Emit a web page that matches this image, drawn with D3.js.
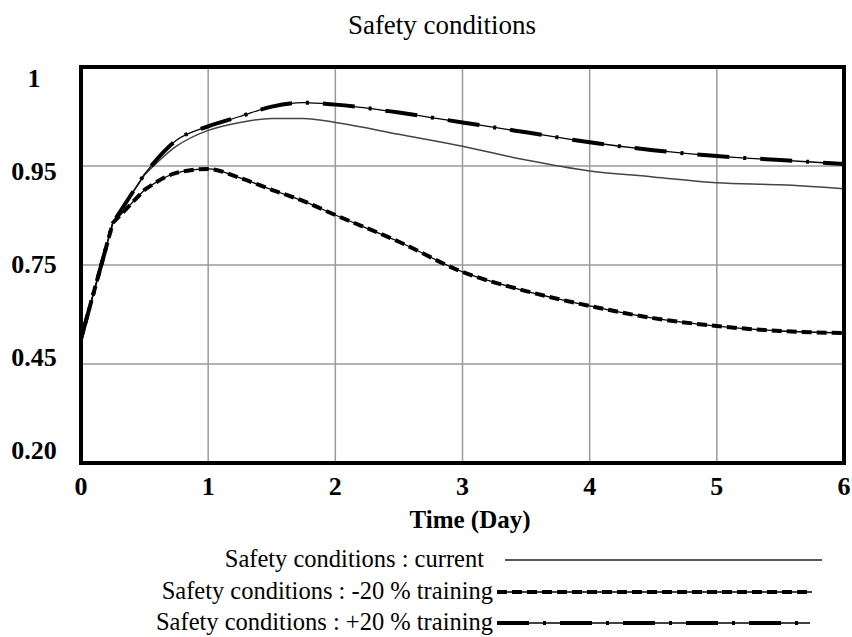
<!DOCTYPE html>
<html>
<head>
<meta charset="utf-8">
<script src="https://cdn.jsdelivr.net/npm/d3@7"></script>
<style>
  body { margin: 0; background: #fff; }
  svg { display: block; font-family: "Liberation Serif", "Times New Roman", serif; }
</style>
</head>
<body>
<svg width="852" height="637"></svg>
<script>
// time in days
const days = [0, 0.25, 0.5, 0.75, 1, 1.25, 1.5, 1.75, 2, 2.5, 3, 3.5, 4, 4.5, 5, 5.5, 6]

// in the units of the (uneven) y labels
const current = [0.526, 0.835, 0.932, 0.960, 0.968, 0.972, 0.974, 0.974, 0.972, 0.966, 0.960, 0.953, 0.940, 0.928, 0.916, 0.912, 0.904]
const minus20 = [0.526, 0.835, 0.902, 0.936, 0.944, 0.926, 0.902, 0.879, 0.851, 0.797, 0.729, 0.671, 0.626, 0.589, 0.565, 0.550, 0.544]
const plus20  = [0.526, 0.835, 0.934, 0.963, 0.970, 0.975, 0.980, 0.982, 0.981, 0.977, 0.972, 0.967, 0.962, 0.958, 0.955, 0.953, 0.951]

const yTicks = [0.20, 0.45, 0.75, 0.95, 1]
const yTickLabels = ["0.20", "0.45", "0.75", "0.95", "1"]
const xTicks = [0, 1, 2, 3, 4, 5, 6]

const seriesNames = [
  "Safety conditions : current",
  "Safety conditions : -20 % training",
  "Safety conditions : +20 % training"
]

const svg = d3.select("svg")
const pLeft = 81, pRight = 844, pTop = 67, pBottom = 463

const x = d3.scaleLinear().domain([0, 6]).range([pLeft, pRight])
// the chart's y axis is evenly spaced but labelled unevenly, so a piecewise scale
const y = d3.scaleLinear().domain(yTicks).range([463, 364, 265, 166, 67])

svg.append("text")
  .attr("x", 442).attr("y", 34)
  .attr("text-anchor", "middle")
  .attr("font-size", 27)
  .text("Safety conditions")

// grid
const grid = svg.append("g").attr("stroke", "#9a9a9a").attr("stroke-width", 1.5)
grid.selectAll("line.v").data(xTicks.slice(1, -1)).enter().append("line")
  .attr("x1", d => x(d)).attr("x2", d => x(d))
  .attr("y1", pTop).attr("y2", pBottom)
grid.selectAll("line.h").data(yTicks.slice(1, -1)).enter().append("line")
  .attr("x1", pLeft).attr("x2", pRight)
  .attr("y1", d => y(d)).attr("y2", d => y(d))

// tick labels
const labelPos = d3.scalePoint().domain(d3.range(yTicks.length)).range([450, 78])
svg.append("g").selectAll("text").data(yTickLabels).enter().append("text")
  .attr("x", 34)
  .attr("y", (d, i) => labelPos(i) + 9)
  .attr("text-anchor", "middle")
  .attr("font-weight", "bold")
  .attr("font-size", 26)
  .text(d => d)

svg.append("g").selectAll("text").data(xTicks).enter().append("text")
  .attr("x", d => x(d))
  .attr("y", 495)
  .attr("text-anchor", "middle")
  .attr("font-weight", "bold")
  .attr("font-size", 26)
  .text(d => d)

svg.append("text")
  .attr("x", 470).attr("y", 528)
  .attr("text-anchor", "middle")
  .attr("font-weight", "bold")
  .attr("font-size", 25)
  .text("Time (Day)")

// series: straight segments for the first saved steps, smooth after
const straight = d3.line().x((d, i) => x(days[i])).y(d => y(d))
const smooth = d3.line().x(d => x(d[0])).y(d => y(d[1])).curve(d3.curveMonotoneX)
function seriesPath(s) {
  const head = straight(s.slice(0, 3))
  const tail = smooth(s.slice(2).map((v, i) => [days[i + 2], v]))
  return head + "L" + tail.slice(1)
}

const styles = [
  { width: 1.5, color: "#444", dash: null, under: false },
  { width: 4, color: "#000", dash: "10,5", under: true },
  { width: 4, color: "#000", dash: "32,14,3,14", under: true }
]
const allSeries = [current, minus20, plus20]

const plot = svg.append("g")
allSeries.forEach((s, k) => {
  const st = styles[k]
  if (st.under) {
    plot.append("path")
      .attr("fill", "none").attr("stroke", "#000").attr("stroke-width", 1.3)
      .attr("d", seriesPath(s))
  }
  plot.append("path")
    .attr("fill", "none")
    .attr("stroke", st.color)
    .attr("stroke-width", st.width)
    .attr("stroke-dasharray", st.dash)
    .attr("d", seriesPath(s))
})

// frame
svg.append("rect")
  .attr("x", pLeft).attr("y", pTop)
  .attr("width", pRight - pLeft).attr("height", pBottom - pTop)
  .attr("fill", "none").attr("stroke", "#000").attr("stroke-width", 4)

// legend
const legendRows = [560, 592, 623]
const legendEnds = [822, 812, 810]
const lg = svg.append("g")
seriesNames.forEach((name, k) => {
  const st = styles[k]
  const ly = legendRows[k]
  lg.append("text")
    .attr("x", k === 0 ? 484 : 493).attr("y", ly + 7)
    .attr("text-anchor", "end")
    .attr("font-size", 24.5)
    .text(name)
  const x0 = k === 0 ? 505 : 497
  if (st.under) {
    lg.append("line").attr("x1", x0).attr("x2", legendEnds[k])
      .attr("y1", ly).attr("y2", ly)
      .attr("stroke", "#000").attr("stroke-width", 1.3)
  }
  lg.append("line").attr("x1", x0).attr("x2", legendEnds[k])
    .attr("y1", ly).attr("y2", ly)
    .attr("stroke", k === 0 ? "#555" : st.color)
    .attr("stroke-width", k === 0 ? 2 : st.width)
    .attr("stroke-dasharray", st.dash)
})
</script>
</body>
</html>
